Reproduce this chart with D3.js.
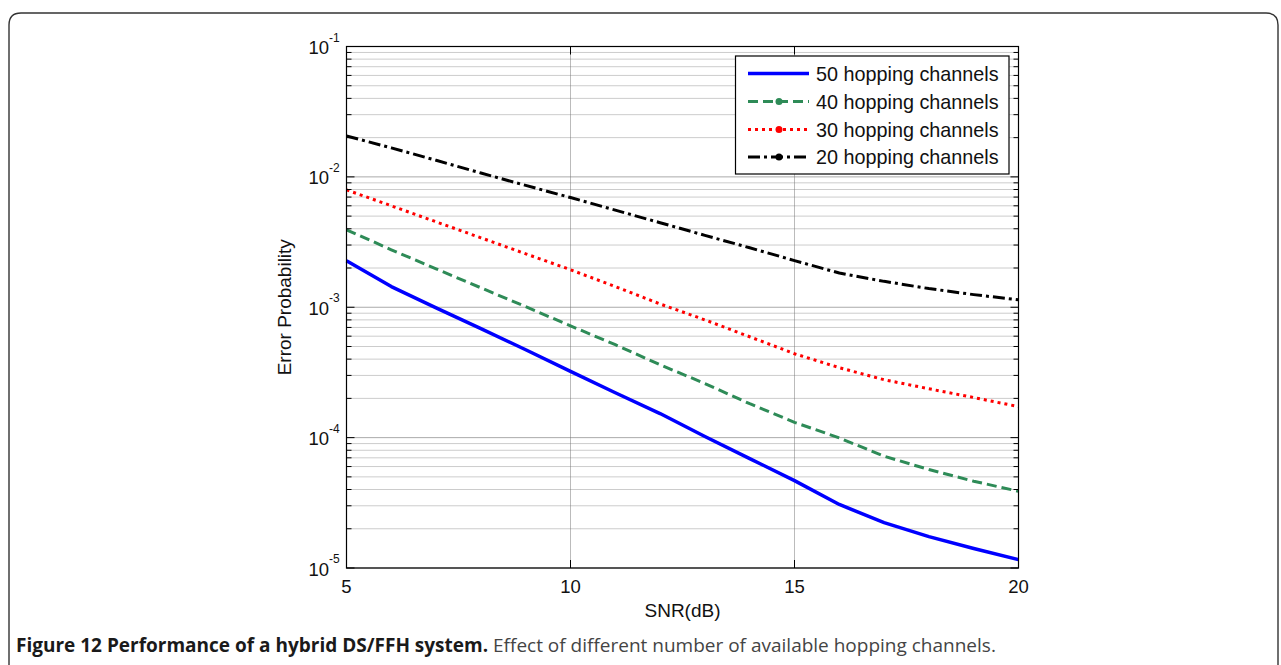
<!DOCTYPE html>
<html>
<head>
<meta charset="utf-8">
<script src="https://cdn.jsdelivr.net/npm/d3@7"></script>
<style>
  html, body { margin: 0; padding: 0; background: #fff; }
  svg { display: block; }
</style>
</head>
<body>
<svg id="chart" width="1281" height="665"></svg>
<script>
// ---- data ----
const snr = [5, 6, 7, 8, 9, 10, 11, 12, 13, 14, 15, 16, 17, 18, 19, 20];
const ch50 = [2.27e-3, 1.44e-3, 9.9e-4, 6.85e-4, 4.72e-4, 3.22e-4, 2.21e-4, 1.53e-4, 1.02e-4, 6.9e-5, 4.68e-5, 3.07e-5, 2.23e-5, 1.74e-5, 1.41e-5, 1.16e-5];
const ch40 = [3.93e-3, 2.76e-3, 1.97e-3, 1.41e-3, 1.01e-3, 7.2e-4, 5.16e-4, 3.62e-4, 2.6e-4, 1.82e-4, 1.31e-4, 9.95e-5, 7.2e-5, 5.69e-5, 4.63e-5, 3.88e-5];
const ch30 = [7.94e-3, 6.0e-3, 4.52e-3, 3.41e-3, 2.57e-3, 1.94e-3, 1.44e-3, 1.06e-3, 8.0e-4, 5.94e-4, 4.4e-4, 3.44e-4, 2.78e-4, 2.37e-4, 2.03e-4, 1.73e-4];
const ch20 = [2.06e-2, 1.67e-2, 1.34e-2, 1.07e-2, 8.6e-3, 6.94e-3, 5.56e-3, 4.45e-3, 3.56e-3, 2.86e-3, 2.28e-3, 1.83e-3, 1.58e-3, 1.39e-3, 1.25e-3, 1.14e-3];
const seriesNames = ["50 hopping channels", "40 hopping channels", "30 hopping channels", "20 hopping channels"];
const xTicks = [5, 10, 15, 20];
const yExponents = [-1, -2, -3, -4, -5];
const xLabel = "SNR(dB)";
const yLabel = "Error Probability";
const captionBold = "Figure 12 Performance of a hybrid DS/FFH system.";
const captionText = " Effect of different number of available hopping channels.";

// ---- styles ----
const styles = [
  { color: "#0000ff", dash: null, width: 3.5, marker: false },
  { color: "#2e8b57", dash: "10,5", width: 3, marker: true },
  { color: "#ff0000", dash: "3,4", width: 3, marker: true },
  { color: "#000000", dash: "12,4,3,4", width: 3, marker: true }
];
const seriesData = [ch50, ch40, ch30, ch20];

const svg = d3.select("#chart");
const L = 346.5, R = 1018.5, T = 46.5, B = 568;
const x = d3.scaleLinear().domain([5, 20]).range([L, R]);
const y = d3.scaleLog().domain([1e-5, 1e-1]).range([B, T]);

// outer frame (rounded, extends past bottom)
const fx0 = 9, fy0 = 13, fx1 = 1278, rr = 12;
svg.append("path")
  .attr("d", `M${fx0},700 L${fx0},${fy0+rr} Q${fx0},${fy0} ${fx0+rr},${fy0} L${fx1-rr},${fy0} Q${fx1},${fy0} ${fx1},${fy0+rr} L${fx1},700`)
  .attr("fill", "none").attr("stroke", "#333").attr("stroke-width", 1.4);

// plot background
svg.append("rect").attr("x", L).attr("y", T).attr("width", R - L).attr("height", B - T).attr("fill", "#fff");

// grid
const minorVals = [];
for (let e = -5; e < -1; e++) for (let m = 2; m <= 9; m++) minorVals.push(m * Math.pow(10, e));
const grid = svg.append("g");
grid.selectAll(".ymin").data(minorVals).enter().append("line")
  .attr("x1", L).attr("x2", R).attr("y1", d => y(d)).attr("y2", d => y(d))
  .attr("stroke", "#999").attr("stroke-width", 1).attr("stroke-dasharray", "1,1");
grid.selectAll(".ymaj").data(yExponents).enter().append("line")
  .attr("x1", L).attr("x2", R).attr("y1", d => y(Math.pow(10, d))).attr("y2", d => y(Math.pow(10, d)))
  .attr("stroke", "#555").attr("stroke-width", 1).attr("stroke-dasharray", "1,1");
grid.selectAll(".xmaj").data(xTicks).enter().append("line")
  .attr("x1", d => x(d)).attr("x2", d => x(d)).attr("y1", T).attr("y2", B)
  .attr("stroke", "#777").attr("stroke-width", 1).attr("stroke-dasharray", "1,1");

// series
const line = d3.line().x((d, i) => x(snr[i])).y(d => y(d));
const lines = svg.append("g");
seriesData.forEach((s, i) => {
  const st = styles[i];
  lines.append("path").datum(s).attr("d", line)
    .attr("fill", "none").attr("stroke", st.color).attr("stroke-width", st.width)
    .attr("stroke-dasharray", st.dash).attr("stroke-linejoin", "round");
});

// axes box
svg.append("rect").attr("x", L).attr("y", T).attr("width", R - L).attr("height", B - T)
  .attr("fill", "none").attr("stroke", "#000").attr("stroke-width", 1.2);

// ticks (inward)
const ticks = svg.append("g").attr("stroke", "#000").attr("stroke-width", 1);
xTicks.forEach(v => {
  ticks.append("line").attr("x1", x(v)).attr("x2", x(v)).attr("y1", B).attr("y2", B - 8);
  ticks.append("line").attr("x1", x(v)).attr("x2", x(v)).attr("y1", T).attr("y2", T + 8);
});
yExponents.forEach(e => {
  const yy = y(Math.pow(10, e));
  ticks.append("line").attr("x1", L).attr("x2", L + 8).attr("y1", yy).attr("y2", yy);
  ticks.append("line").attr("x1", R).attr("x2", R - 8).attr("y1", yy).attr("y2", yy);
});
minorVals.forEach(v => {
  const yy = y(v);
  ticks.append("line").attr("x1", L).attr("x2", L + 5).attr("y1", yy).attr("y2", yy);
  ticks.append("line").attr("x1", R).attr("x2", R - 5).attr("y1", yy).attr("y2", yy);
});

const font = "'Liberation Sans', Arial, sans-serif";
// x tick labels
svg.append("g").selectAll("text").data(xTicks).enter().append("text")
  .attr("x", d => x(d)).attr("y", B + 24.5).attr("text-anchor", "middle")
  .attr("font-family", font).attr("font-size", 18.5).attr("fill", "#111").text(d => d);
// y tick labels
const yl = svg.append("g");
yExponents.forEach(e => {
  const yy = y(Math.pow(10, e));
  yl.append("text").attr("x", 329).attr("y", yy + 7.5).attr("text-anchor", "end")
    .attr("font-family", font).attr("font-size", 18.5).attr("fill", "#111").text("10");
  yl.append("text").attr("x", 329).attr("y", yy - 5).attr("text-anchor", "start")
    .attr("font-family", font).attr("font-size", 12).attr("fill", "#111").text(e);
});
// axis labels
svg.append("text").attr("x", (L + R) / 2).attr("y", 617).attr("text-anchor", "middle")
  .attr("font-family", font).attr("font-size", 19).attr("fill", "#111").text(xLabel);
svg.append("text").attr("transform", `translate(291,${(T + B) / 2}) rotate(-90)`)
  .attr("text-anchor", "middle").attr("font-family", font).attr("font-size", 19).attr("fill", "#111").text(yLabel);

// legend
const lg = svg.append("g");
lg.append("rect").attr("x", 735.5).attr("y", 56).attr("width", 273.5).attr("height", 118)
  .attr("fill", "#fff").attr("stroke", "#000").attr("stroke-width", 1.2);
const rowY = [73.5, 101.5, 129.5, 157];
seriesNames.forEach((name, i) => {
  const st = styles[i];
  lg.append("line").attr("x1", 748).attr("x2", 809).attr("y1", rowY[i]).attr("y2", rowY[i])
    .attr("stroke", st.color).attr("stroke-width", st.width).attr("stroke-dasharray", st.dash);
  if (st.marker) lg.append("circle").attr("cx", 779).attr("cy", rowY[i]).attr("r", 3.5).attr("fill", st.color);
  lg.append("text").attr("x", 816).attr("y", rowY[i] + 7).attr("font-family", font)
    .attr("font-size", 19.8).attr("fill", "#111").text(name);
});

// caption
const cap = svg.append("text").attr("x", 16).attr("y", 652)
  .attr("font-family", "'Open Sans', 'Noto Sans', sans-serif").attr("font-size", 19);
cap.append("tspan").attr("font-weight", "bold").attr("fill", "#1a1a1a").text(captionBold);
cap.append("tspan").attr("fill", "#444").text(captionText);
</script>
</body>
</html>
